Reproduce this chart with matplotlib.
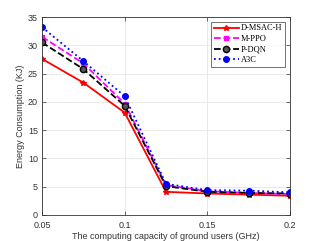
import numpy as np
import matplotlib.pyplot as plt

# computing capacity (GHz)
x = [0.05, 0.075, 0.1, 0.125, 0.15, 0.175, 0.2]

# energy consumption (KJ)
d_msac_h = [27.6, 23.4, 18.1, 4.1, 3.8, 3.6, 3.4]
m_ppo = [31.5, 26.8, 19.7, 5.3, 4.2, 3.9, 3.7]
p_dqn = [30.5, 25.8, 19.3, 5.1, 4.1, 3.9, 3.8]
a3c = [33.2, 27.2, 21.0, 5.5, 4.4, 4.3, 4.0]

plt.rcParams['font.family'] = ['Liberation Sans', 'DejaVu Sans']
plt.rcParams['font.size'] = 6.5

fig = plt.figure(figsize=(3.21, 2.41), dpi=100)
ax = fig.add_axes([42 / 321, 26 / 241, 248 / 321, 198 / 241])

ax.plot(x, d_msac_h, color='red', ls='-', lw=1.3, marker='*', ms=4, label='D-MSAC-H')
ax.plot(x, m_ppo, color='magenta', ls='--', lw=1.3, marker='s', ms=3.5, label='M-PPO')
ax.plot(x, p_dqn, color='black', ls='--', lw=1.3, marker='o', ms=4.5,
        mfc='#555555', mec='black', label='P-DQN')
ax.plot(x, a3c, color='blue', ls=':', lw=1.3, marker='o', ms=4, label='A3C')

ax.set_xlim(0.05, 0.2)
ax.set_ylim(0, 35)
ax.set_xticks([0.05, 0.1, 0.15, 0.2])
ax.set_xticklabels(['0.05', '0.1', '0.15', '0.2'])
ax.set_yticks(np.arange(0, 36, 5))
ax.grid(True, color='#e6e6e6', lw=0.6)
ax.tick_params(direction='in', length=3, width=0.5, top=True, right=True, colors='#333333')
ax.tick_params(axis='x', pad=4)
ax.tick_params(axis='y', pad=3)
for s in ax.spines.values():
    s.set_linewidth(0.6)
    s.set_color('#333333')

ax.set_xlabel('The computing capacity of ground users (GHz)', color='#333333', labelpad=2)
ax.set_ylabel('Energy Consumption (KJ)', color='#333333', labelpad=2)

leg = ax.legend(loc='upper right', prop={'family': 'Liberation Serif', 'size': 6},
                fancybox=False, edgecolor='#333333', handlelength=3, borderpad=0.3,
                labelspacing=0.3, handletextpad=0.3, borderaxespad=0.6)
leg.get_frame().set_linewidth(0.6)

fig.savefig('out.png', dpi=100)
